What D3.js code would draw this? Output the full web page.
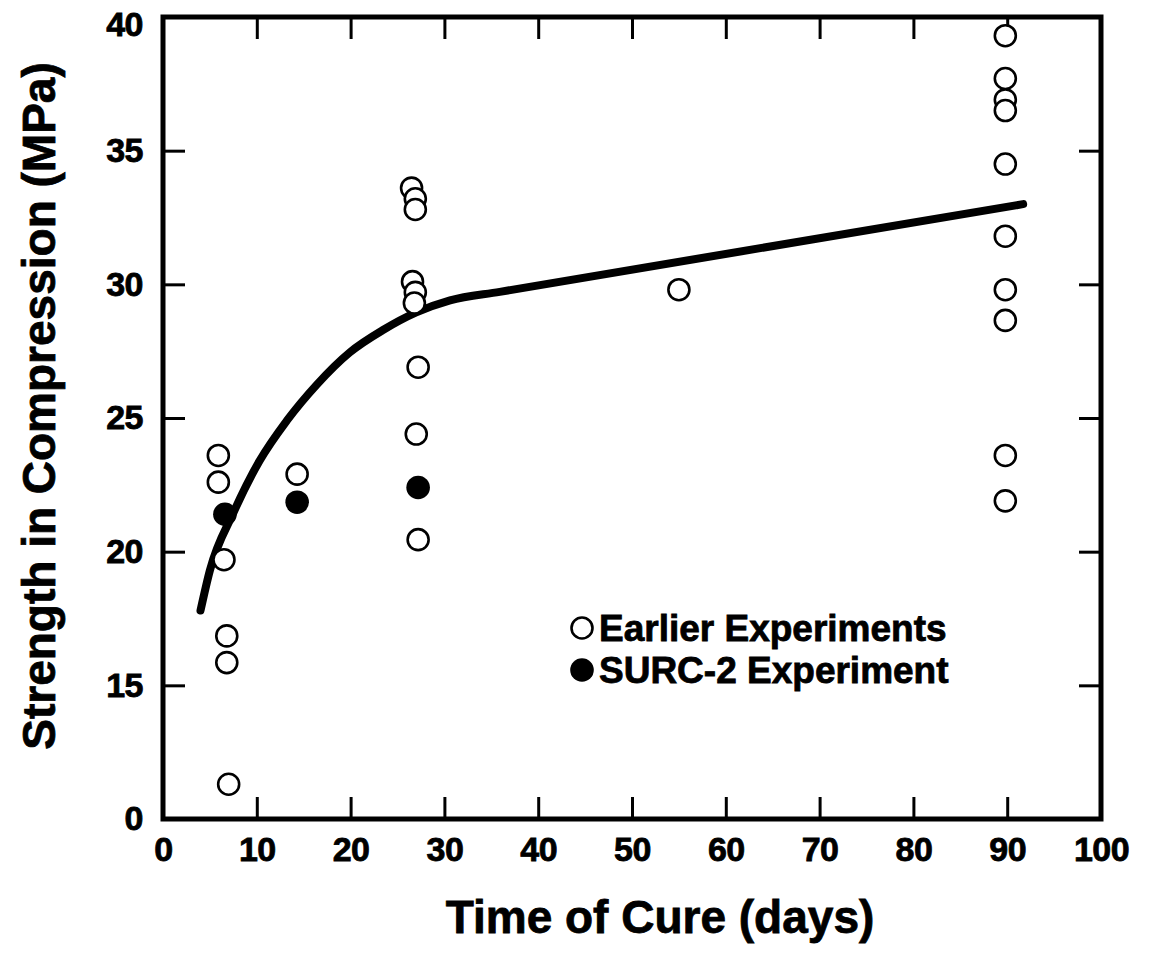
<!DOCTYPE html>
<html>
<head>
<meta charset="utf-8">
<script src="https://cdn.jsdelivr.net/npm/d3@7/dist/d3.min.js"></script>
<style>
  html, body { margin: 0; padding: 0; background: #fff; }
  svg { display: block; }
  .lbl { font-family: "Liberation Sans", Arial, Helvetica, sans-serif; font-weight: bold; fill: #000; stroke: #000; stroke-width: 0.8; }
</style>
</head>
<body>
<svg id="chart" width="1152" height="956"></svg>
<script>
// Earlier experiments: cure time (days) and compressive strength (MPa)
const earlierDays = [5.9, 5.9, 6.5, 6.8, 6.8, 7.0,
                     14.3,
                     26.5, 26.9, 26.9, 26.6, 26.9, 26.8, 27.2, 27.0, 27.2,
                     55.0,
                     89.8, 89.8, 89.8, 89.8, 89.8, 89.8, 89.8, 89.8, 89.8, 89.8];
const earlierStrength = [23.6, 22.6, 19.7, 16.85, 15.85, 11.3,
                         22.9,
                         33.6, 33.2, 32.8, 30.1, 29.7, 29.3, 26.9, 24.4, 20.45,
                         29.8,
                         39.3, 37.7, 36.9, 36.5, 34.5, 31.8, 29.8, 28.65, 23.6, 21.9];

// SURC-2 experiment
const surcDays = [6.6, 14.3, 27.2];
const surcStrength = [21.4, 21.85, 22.4];

// Strength-development trend curve
const trendDays = [4.0, 5.0, 7.5, 10.3, 13.2, 16.4, 19.9, 23.5, 27.0, 30.6, 35.9, 91.7];
const trendStrength = [17.8, 19.3, 21.45, 23.4, 24.9, 26.25, 27.45, 28.3, 28.95, 29.4, 29.72, 33.0];

// Axis ticks
const xTicks = [0, 10, 20, 30, 40, 50, 60, 70, 80, 90, 100];
const yTicks = [10, 15, 20, 25, 30, 35, 40];
const yTickLabels = ["0", "15", "20", "25", "30", "35", "40"];

const legendLabels = ["Earlier Experiments", "SURC-2 Experiment"];

const svg = d3.select("#chart");
const plot = { left: 163, right: 1101, top: 17, bottom: 819 };

const x = d3.scaleLinear().domain([0, 100]).range([plot.left, plot.right]);
const y = d3.scaleLinear().domain([10, 40]).range([plot.bottom, plot.top]);

const tickLen = 22;

// Bottom axis with labels
const gx = svg.append("g")
  .attr("transform", `translate(0,${plot.bottom})`)
  .call(d3.axisBottom(x).tickValues(xTicks).tickSize(-tickLen).tickPadding(18)
    .tickFormat(d3.format("d")));
// Top axis, ticks only
const gxt = svg.append("g")
  .attr("transform", `translate(0,${plot.top})`)
  .call(d3.axisTop(x).tickValues(xTicks).tickSize(-tickLen).tickFormat(""));
// Left axis with labels
const gy = svg.append("g")
  .attr("transform", `translate(${plot.left},0)`)
  .call(d3.axisLeft(y).tickValues(yTicks).tickSize(-tickLen).tickPadding(20)
    .tickFormat((d, i) => yTickLabels[i]));
// Right axis, ticks only
const gyr = svg.append("g")
  .attr("transform", `translate(${plot.right},0)`)
  .call(d3.axisRight(y).tickValues(yTicks).tickSize(-tickLen).tickFormat(""));

[gx, gxt, gy, gyr].forEach(g => {
  g.select(".domain").remove();
  g.attr("font-size", null).attr("font-family", null);
  g.selectAll(".tick line").attr("stroke", "#000").attr("stroke-width", 3);
  g.selectAll(".tick text").attr("class", "lbl")
    .style("font-size", "34px").style("letter-spacing", "-0.5px");
});
gx.selectAll(".tick text").attr("dy", "0.71em");
// keep the top label inside the page
gy.selectAll(".tick text").filter(d => d === 40).attr("dy", "0.55em");

// Frame
svg.append("rect")
  .attr("x", plot.left).attr("y", plot.top)
  .attr("width", plot.right - plot.left).attr("height", plot.bottom - plot.top)
  .attr("fill", "none").attr("stroke", "#000").attr("stroke-width", 5);

// Trend curve
const trend = trendDays.map((d, i) => [d, trendStrength[i]]);
svg.append("path")
  .datum(trend)
  .attr("fill", "none").attr("stroke", "#000").attr("stroke-width", 8)
  .attr("stroke-linecap", "round").attr("stroke-linejoin", "round")
  .attr("d", d3.line().x(d => x(d[0])).y(d => y(d[1])).curve(d3.curveMonotoneX));

// Data points
const r = 10.5;
svg.append("g").selectAll("circle")
  .data(earlierDays.map((d, i) => [d, earlierStrength[i]]))
  .join("circle")
  .attr("cx", d => x(d[0])).attr("cy", d => y(d[1])).attr("r", r)
  .attr("fill", "#fff").attr("stroke", "#000").attr("stroke-width", 2.6);

svg.append("g").selectAll("circle")
  .data(surcDays.map((d, i) => [d, surcStrength[i]]))
  .join("circle")
  .attr("cx", d => x(d[0])).attr("cy", d => y(d[1])).attr("r", r + 1.3)
  .attr("fill", "#000");

// Legend
const legend = svg.append("g").attr("transform", "translate(582,628)");
legend.append("circle").attr("cx", 0).attr("cy", 0).attr("r", r)
  .attr("fill", "#fff").attr("stroke", "#000").attr("stroke-width", 2.6);
legend.append("circle").attr("cx", 0).attr("cy", 42).attr("r", r + 1.3)
  .attr("fill", "#000");
legend.selectAll("text").data(legendLabels).join("text")
  .attr("class", "lbl")
  .attr("x", 17).attr("y", (d, i) => 13 + i * 42)
  .style("font-size", "37px")
  .text(d => d);

// Axis titles
svg.append("text")
  .attr("class", "lbl")
  .attr("x", 660).attr("y", 933)
  .attr("text-anchor", "middle").style("font-size", "46px")
  .text("Time of Cure (days)");

svg.append("text")
  .attr("class", "lbl")
  .attr("transform", "translate(55,406) rotate(-90)")
  .attr("text-anchor", "middle").style("font-size", "46px")
  .text("Strength in Compression (MPa)");
</script>
</body>
</html>
